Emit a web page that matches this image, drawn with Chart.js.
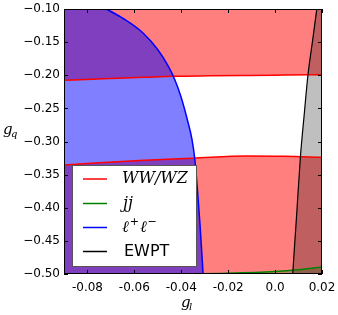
<!DOCTYPE html>
<html>
<head>
<meta charset="utf-8">
<script src="https://cdn.jsdelivr.net/npm/chart.js@4.4.0/dist/chart.umd.min.js"></script>
<style>
  body { margin: 0; background: #fff; }
  canvas { display: block; }
</style>
</head>
<body>
<canvas id="chart" width="338" height="315"></canvas>
<script>
// axis limits and ticks
const xMin = -0.09, xMax = 0.02;
const yMin = -0.50, yMax = -0.10;
const xTicks = [-0.08, -0.06, -0.04, -0.02, 0.0, 0.02];
const xTickLabels = ['-0.08', '-0.06', '-0.04', '-0.02', '0.0', '0.02'];
const yTicks = [-0.50, -0.45, -0.40, -0.35, -0.30, -0.25, -0.20, -0.15, -0.10];
const yTickLabels = ['\u22120.50', '\u22120.45', '\u22120.40', '\u22120.35', '\u22120.30', '\u22120.25', '\u22120.20', '\u22120.15', '\u22120.10'];

// WW/WZ bounds (excluded above the upper curve and below the lower one)
const wwUpperX = [-0.09, -0.078, -0.067, -0.055, -0.0437, -0.028, -0.0117, 0.004, 0.02];
const wwUpperY = [-0.2076, -0.2060, -0.2045, -0.2030, -0.2016, -0.2008, -0.2002, -0.1997, -0.1992];
const wwLowerX = [-0.09, -0.0749, -0.0578, -0.0352, -0.0121, 0.0041, 0.02];
const wwLowerY = [-0.3355, -0.3322, -0.3287, -0.3254, -0.3219, -0.3223, -0.3238];

// jj bound (excluded below)
const jjX = [-0.09, -0.06, -0.04, -0.02, 0.0, 0.01, 0.02];
const jjY = [-0.5008, -0.5003, -0.4998, -0.4988, -0.4962, -0.4935, -0.4895];

// l+l- bound (excluded to the left)
const llX = [-0.0721, -0.0644, -0.0563, -0.0499, -0.0456, -0.0427, -0.0401, -0.0376, -0.0354, -0.0342, -0.0331, -0.0320, -0.0307];
const llY = [-0.1000, -0.1151, -0.1362, -0.1619, -0.1860, -0.2072, -0.2328, -0.2645, -0.2977, -0.3279, -0.3732, -0.4260, -0.5000];

// EWPT bound (excluded to the right)
const ewptX = [0.0075, 0.0092, 0.0108, 0.0124, 0.0140, 0.0159, 0.0178];
const ewptY = [-0.50, -0.41, -0.323, -0.26, -0.20, -0.15, -0.10];

const legendLabels = ['WW/WZ', 'jj', 'ℓ+ℓ−', 'EWPT'];
const legendColors = ['#ff0000', '#008000', '#0000ff', '#000000'];

function pts(xs, ys) {
    return xs.map((v, i) => ({x: v, y: ys[i]}));
}

function region(data, color, fill, order) {
    return {
        data: data,
        fill: fill,
        backgroundColor: color,
        borderWidth: 0,
        pointRadius: 0,
        cubicInterpolationMode: 'monotone',
        order: order
    };
}

function curve(data, color, width, order) {
    return {
        data: data,
        fill: false,
        borderColor: color,
        borderWidth: width,
        pointRadius: 0,
        cubicInterpolationMode: 'monotone',
        order: order
    };
}

// frame, inner ticks, axis titles and legend
const decorPlugin = {
    id: 'decor',
    afterDraw(chart) {
        const ctx = chart.ctx;
        const a = chart.chartArea;
        const xs = chart.scales.x;
        const ys = chart.scales.y;
        ctx.save();

        ctx.strokeStyle = '#000';
        ctx.lineWidth = 1;
        ctx.strokeRect(a.left + 0.5, a.top + 0.5, a.right - a.left - 1, a.bottom - a.top - 1);

        ctx.beginPath();
        xTicks.forEach(v => {
            const px = Math.round(xs.getPixelForValue(v)) + 0.5;
            ctx.moveTo(px, a.bottom); ctx.lineTo(px, a.bottom - 4);
            ctx.moveTo(px, a.top); ctx.lineTo(px, a.top + 4);
        });
        yTicks.forEach(v => {
            const py = Math.round(ys.getPixelForValue(v)) + 0.5;
            ctx.moveTo(a.left, py); ctx.lineTo(a.left + 4, py);
            ctx.moveTo(a.right, py); ctx.lineTo(a.right - 4, py);
        });
        ctx.stroke();

        // axis titles
        ctx.fillStyle = '#000';
        ctx.textBaseline = 'alphabetic';
        ctx.textAlign = 'left';
        ctx.font = 'italic 15px "DejaVu Serif"';
        ctx.fillText('g', 3, 134);
        ctx.font = 'italic 10px "DejaVu Serif"';
        ctx.fillText('q', 11, 137);
        ctx.font = 'italic 15px "DejaVu Serif"';
        ctx.fillText('g', 181, 307);
        ctx.font = 'italic 10px "DejaVu Serif"';
        ctx.fillText('l', 189, 310);

        // legend
        ctx.fillStyle = '#fff';
        ctx.fillRect(72.5, 165.5, 124, 101);
        ctx.strokeStyle = '#555';
        ctx.strokeRect(72.5, 165.5, 124, 101);
        const rows = [179, 203.5, 227.5, 251.5];
        rows.forEach((ry, i) => {
            ctx.strokeStyle = legendColors[i];
            ctx.lineWidth = 1.5;
            ctx.beginPath();
            ctx.moveTo(83, ry); ctx.lineTo(107, ry);
            ctx.stroke();
        });
        ctx.fillStyle = '#000';
        ctx.textBaseline = 'middle';
        ctx.font = 'italic 16px "DejaVu Serif"';
        ctx.fillText(legendLabels[0], 122, rows[0]);
        ctx.fillText(legendLabels[1], 123, rows[1]);
        // l+l- with raised signs
        const lab = legendLabels[2];
        let tx = 122;
        for (const ch of lab) {
            if (ch === 'ℓ') {
                ctx.font = 'italic 16px "DejaVu Serif"';
                ctx.fillText(ch, tx, rows[2]);
                tx += ctx.measureText(ch).width + 1;
            } else {
                ctx.font = '11px "DejaVu Sans"';
                ctx.fillText(ch, tx, rows[2] - 5);
                tx += ctx.measureText(ch).width + 1;
            }
        }
        ctx.font = '16px "DejaVu Sans"';
        ctx.fillText(legendLabels[3], 124, rows[3]);

        ctx.restore();
    }
};

const ctx = document.getElementById('chart').getContext('2d');

const llFill = [{x: xMin, y: yMax}].concat(pts(llX, llY));
const ewptFill = pts(ewptX, ewptY).concat([{x: xMax, y: yMax}]);

new Chart(ctx, {
    type: 'line',
    data: {
        datasets: [
            region(pts(wwUpperX, wwUpperY), 'rgba(255, 0, 0, 0.5)', 'end', 20),
            region(pts(wwLowerX, wwLowerY), 'rgba(255, 0, 0, 0.5)', 'start', 19),
            region(pts(jjX, jjY), 'rgba(0, 128, 0, 0.25)', 'start', 18),
            region(ewptFill, 'rgba(0, 0, 0, 0.25)', 'start', 17),
            region(llFill, 'rgba(0, 0, 255, 0.5)', 'start', 16),
            curve(pts(wwUpperX, wwUpperY), '#ff0000', 1.5, 5),
            curve(pts(wwLowerX, wwLowerY), '#ff0000', 1.5, 4),
            curve(pts(jjX, jjY), '#008000', 1.5, 3),
            curve(pts(llX, llY), '#0000ff', 1.5, 2),
            curve(pts(ewptX, ewptY), '#000000', 1.2, 1)
        ]
    },
    options: {
        responsive: false,
        animation: false,
        layout: {
            padding: {top: 9, right: 16, left: 0, bottom: 0}
        },
        plugins: {
            legend: {display: false},
            tooltip: {enabled: false}
        },
        scales: {
            x: {
                type: 'linear',
                min: xMin,
                max: xMax,
                afterBuildTicks: s => { s.ticks = xTicks.map(v => ({value: v})); },
                afterFit: s => {
                    s.height = 41;
                    s.paddingLeft = 0; s.paddingRight = 0;
                    s.paddingTop = 0; s.paddingBottom = 0;
                },
                grid: {display: false, drawTicks: false},
                border: {display: false},
                ticks: {
                    callback: (v, i) => xTickLabels[i],
                    color: '#000',
                    font: {family: 'DejaVu Sans', size: 12},
                    padding: 7,
                    maxRotation: 0,
                    autoSkip: false
                }
            },
            y: {
                type: 'linear',
                min: yMin,
                max: yMax,
                afterBuildTicks: s => { s.ticks = yTicks.map(v => ({value: v})); },
                afterFit: s => {
                    s.width = 64;
                    s.paddingLeft = 0; s.paddingRight = 0;
                    s.paddingTop = 0; s.paddingBottom = 0;
                },
                grid: {display: false, drawTicks: false},
                border: {display: false},
                ticks: {
                    callback: (v, i) => yTickLabels[i],
                    color: '#000',
                    font: {family: 'DejaVu Sans', size: 12},
                    padding: 4,
                    autoSkip: false
                }
            }
        }
    },
    plugins: [decorPlugin]
});
</script>
</body>
</html>
